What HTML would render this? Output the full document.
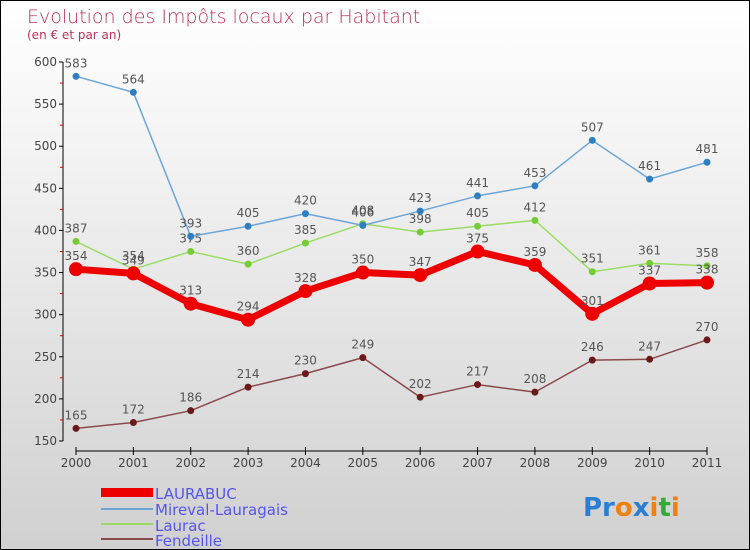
<!DOCTYPE html>
<html><head><meta charset="utf-8"><style>
body{margin:0}
#c{width:748px;height:548px;border:1px solid #000;background:linear-gradient(#ffffff,#f2f2f2 30%,#d0d0d0);position:relative;font-family:"DejaVu Sans","Liberation Sans",sans-serif;overflow:hidden}
</style></head><body>
<div id="c">
<svg width="748" height="548" id="s">
<text x="26" y="22" font-size="19" fill="#c0305a" font-family="DejaVu Sans,Liberation Sans,sans-serif" font-weight="200">Evolution des Impôts locaux par Habitant</text>
<text x="26" y="38" font-size="12" fill="#c0305a">(en € et par an)</text>
<g id="axes"></g><g id="series"></g>
<g>
<rect x="100" y="487" width="52" height="9" fill="#e00"/>
<text x="154" y="498" font-size="15" fill="#5555ee">LAURABUC</text>
<line x1="100" y1="508" x2="152" y2="508" stroke="#6ea6d6" stroke-width="2"/>
<text x="154" y="514" font-size="15" fill="#5555ee">Mireval-Lauragais</text>
<line x1="100" y1="523" x2="152" y2="523" stroke="#99dd66" stroke-width="2"/>
<text x="154" y="530" font-size="15" fill="#5555ee">Laurac</text>
<line x1="100" y1="538" x2="152" y2="538" stroke="#8b4a4a" stroke-width="2"/>
<text x="154" y="545" font-size="15" fill="#5555ee">Fendeille</text>
</g>
<text x="582" y="515" font-size="26" font-weight="bold"><tspan fill="#2a7fd4">Pr</tspan><tspan fill="#f08010">o</tspan><tspan fill="#2a7fd4">x</tspan><tspan fill="#f08010">i</tspan><tspan fill="#33aa33">t</tspan><tspan fill="#f08010">i</tspan></text>
</svg></div>
<script>
const years=["2000","2001","2002","2003","2004","2005","2006","2007","2008","2009","2010","2011"];
const yTicks=[150,200,250,300,350,400,450,500,550,600];
const laurabuc=[354,349,313,294,328,350,347,375,359,301,337,338];
const mireval=[583,564,393,405,420,406,423,441,453,507,461,481];
const laurac=[387,354,375,360,385,408,398,405,412,351,361,358];
const fendeille=[165,172,186,214,230,249,202,217,208,246,247,270];
const NS="http://www.w3.org/2000/svg";
function X(i){return 75+i*(706-75)/11;}
function Y(v){return 440-(v-150)*(440-61)/450;}
function mk(t,a,p){const e=document.createElementNS(NS,t);for(const k in a)e.setAttribute(k,a[k]);p.appendChild(e);return e;}
const ax=document.getElementById('axes');
let e=mk('line',{x1:62,y1:Y(600),x2:62,y2:Y(150),stroke:'#000'},ax);


e=mk('line',{x1:X(0),y1:450,x2:X(11),y2:450,stroke:'#000'},ax);


yTicks.forEach(v=>{
 mk('line',{x1:58,y1:Y(v),x2:62,y2:Y(v),stroke:'#000'},ax);
 if(v<600)mk('line',{x1:59,y1:Y(v+25),x2:62,y2:Y(v+25),stroke:'#d00'},ax);
 const t=mk('text',{x:56,y:Y(v)+4,'font-size':12,fill:'#444','text-anchor':'end'},ax);t.textContent=v;
 
 
});
years.forEach((y,i)=>{
 mk('line',{x1:X(i),y1:446,x2:X(i),y2:454,stroke:'#000'},ax);
 const t=mk('text',{x:X(i),y:466,'font-size':12,fill:'#444','text-anchor':'middle'},ax);t.textContent=y;
 
 
});
const sg=document.getElementById('series');
function series(d,name,col,dot,w,r){
 const g=mk('g',{},sg);
 
 
 const pl=mk('polyline',{points:d.map((v,i)=>X(i)+','+Y(v)).join(' '),fill:'none',stroke:col,'stroke-width':w,'stroke-linejoin':'round'},g);
 
 
 d.forEach((v,i)=>{
  const c=mk('circle',{cx:X(i),cy:Y(v),r:r,fill:dot},g);
  
  
  const t=mk('text',{x:X(i),y:Y(v)-9,'font-size':12,fill:'#555','text-anchor':'middle'},g);t.textContent=v;
  
  
 });
}
series(fendeille,'fendeille','#8b4a4a','#6a1a1a',1.5,3.5);
series(laurac,'laurac','#99dd66','#77cc33',1.5,3.5);
series(mireval,'mireval','#6ea6d6','#2f7fc0',1.5,3.5);
series(laurabuc,'laurabuc','#ee0000','#ee0000',7,7);
</script>
</body></html>
